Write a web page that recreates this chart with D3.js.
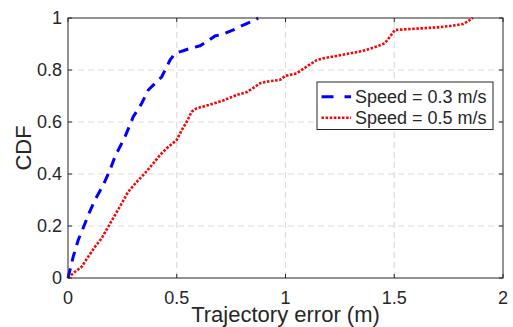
<!DOCTYPE html>
<html>
<head>
<meta charset="utf-8">
<script src="https://cdn.jsdelivr.net/npm/d3@7"></script>
<style>
  html, body { margin: 0; padding: 0; background: #fff; }
  svg { display: block; }
  text { font-family: "Liberation Sans", Arial, Helvetica, sans-serif; fill: #262626; }
</style>
</head>
<body>
<svg id="chart" width="513" height="327"></svg>
<script>
// ---- data ----
const seriesNames = ["Speed = 0.3 m/s", "Speed = 0.5 m/s"];
const xTicks = [0, 0.5, 1, 1.5, 2];
const yTicks = [0, 0.2, 0.4, 0.6, 0.8, 1];
const xLabel = "Trajectory error (m)";
const yLabel = "CDF";

const speed03X = [0, 0.024, 0.047, 0.063, 0.093, 0.124, 0.162, 0.193, 0.216, 0.262, 0.300, 0.339, 0.369, 0.392, 0.431, 0.469, 0.492, 0.530, 0.561, 0.607, 0.638, 0.676, 0.714, 0.760, 0.806, 0.860, 0.874];
const speed03Y = [0, 0.082, 0.146, 0.178, 0.242, 0.300, 0.358, 0.415, 0.467, 0.543, 0.620, 0.672, 0.723, 0.742, 0.774, 0.838, 0.864, 0.874, 0.883, 0.893, 0.909, 0.931, 0.938, 0.954, 0.973, 0.992, 1.0];

const speed05X = [0, 0.032, 0.063, 0.093, 0.124, 0.155, 0.185, 0.216, 0.247, 0.277, 0.316, 0.354, 0.392, 0.423, 0.454, 0.500, 0.523, 0.546, 0.569, 0.592, 0.653, 0.714, 0.776, 0.822, 0.852, 0.883, 0.920, 0.975, 0.998, 1.051, 1.097, 1.143, 1.174, 1.235, 1.297, 1.358, 1.419, 1.457, 1.480, 1.503, 1.542, 1.618, 1.695, 1.756, 1.818, 1.862];
const speed05Y = [0, 0.024, 0.043, 0.082, 0.120, 0.153, 0.197, 0.242, 0.287, 0.332, 0.370, 0.403, 0.441, 0.473, 0.499, 0.531, 0.569, 0.601, 0.640, 0.653, 0.667, 0.683, 0.704, 0.715, 0.731, 0.749, 0.756, 0.762, 0.777, 0.787, 0.813, 0.838, 0.845, 0.854, 0.864, 0.874, 0.890, 0.903, 0.928, 0.954, 0.956, 0.960, 0.964, 0.969, 0.977, 1.0];

// ---- layout ----
const svg = d3.select("#chart");
const L = 68, R = 503, T = 18, B = 278;
const x = d3.scaleLinear().domain([0, 2]).range([L, R]);
const y = d3.scaleLinear().domain([0, 1]).range([B, T]);
const axisColor = "#262626";

// grid
const g = svg.append("g");
g.selectAll("line.vg").data(xTicks.filter(t => t > 0 && t < 2)).enter().append("line")
  .attr("x1", d => x(d)).attr("x2", d => x(d)).attr("y1", B).attr("y2", T)
  .attr("stroke", "#dcdcdc").attr("stroke-width", 1.2).attr("stroke-dasharray", "6 4");
g.selectAll("line.hg").data(yTicks.filter(t => t > 0 && t < 1)).enter().append("line")
  .attr("x1", L).attr("x2", R).attr("y1", d => y(d)).attr("y2", d => y(d))
  .attr("stroke", "#dcdcdc").attr("stroke-width", 1.2).attr("stroke-dasharray", "6 4");

// curves
const line = d3.line().x(d => x(d[0])).y(d => y(d[1]));
const blueData = speed03X.map((v, i) => [v, speed03Y[i]]);
const redData = speed05X.map((v, i) => [v, speed05Y[i]]);

svg.append("path").datum(redData).attr("d", line).attr("fill", "none")
  .attr("stroke", "#ff0000").attr("stroke-width", 2.6).attr("stroke-dasharray", "2.5 1.6");
svg.append("path").datum(blueData).attr("d", line).attr("fill", "none")
  .attr("stroke", "#0000ff").attr("stroke-width", 3).attr("stroke-dasharray", "10 7");

// axes box
const ax = svg.append("g");
ax.append("rect").attr("x", L).attr("y", T).attr("width", R - L).attr("height", B - T)
  .attr("fill", "none").attr("stroke", axisColor).attr("stroke-width", 1);

// ticks (inward, all four sides)
const tl = 4;
xTicks.forEach(t => {
  ax.append("line").attr("x1", x(t)).attr("x2", x(t)).attr("y1", B).attr("y2", B - tl).attr("stroke", axisColor);
  ax.append("line").attr("x1", x(t)).attr("x2", x(t)).attr("y1", T).attr("y2", T + tl).attr("stroke", axisColor);
});
yTicks.forEach(t => {
  ax.append("line").attr("x1", L).attr("x2", L + tl).attr("y1", y(t)).attr("y2", y(t)).attr("stroke", axisColor);
  ax.append("line").attr("x1", R).attr("x2", R - tl).attr("y1", y(t)).attr("y2", y(t)).attr("stroke", axisColor);
});

// tick labels
ax.selectAll("text.xt").data(xTicks).enter().append("text")
  .attr("x", d => x(d)).attr("y", 304).attr("text-anchor", "middle")
  .attr("font-size", 18).text(d => d3.format("~g")(d));
ax.selectAll("text.yt").data(yTicks).enter().append("text")
  .attr("x", 62).attr("y", d => y(d)).attr("dy", "0.35em").attr("text-anchor", "end")
  .attr("font-size", 18).text(d => d3.format("~g")(d));

// axis labels
svg.append("text").attr("x", (L + R) / 2).attr("y", 321.5).attr("text-anchor", "middle")
  .attr("font-size", 22).text(xLabel);
svg.append("text").attr("transform", `translate(31,${(T + B) / 2}) rotate(-90)`)
  .attr("text-anchor", "middle").attr("font-size", 22).text(yLabel);

// legend
const lg = svg.append("g");
lg.append("rect").attr("x", 317).attr("y", 82).attr("width", 176).attr("height", 47.5)
  .attr("fill", "#fff").attr("stroke", axisColor).attr("stroke-width", 1);
const rows = [
  { name: seriesNames[0], color: "#0000ff", w: 3, dash: "12 11", cy: 96.7 },
  { name: seriesNames[1], color: "#ff0000", w: 2.6, dash: "2.5 1.6", cy: 117.7 }
];
rows.forEach(r => {
  lg.append("line").attr("x1", 321.5).attr("x2", 351).attr("y1", r.cy).attr("y2", r.cy)
    .attr("stroke", r.color).attr("stroke-width", r.w).attr("stroke-dasharray", r.dash);
  lg.append("text").attr("x", 355).attr("y", r.cy).attr("dy", "0.35em")
    .attr("font-size", 18).text(r.name);
});
</script>
</body>
</html>
